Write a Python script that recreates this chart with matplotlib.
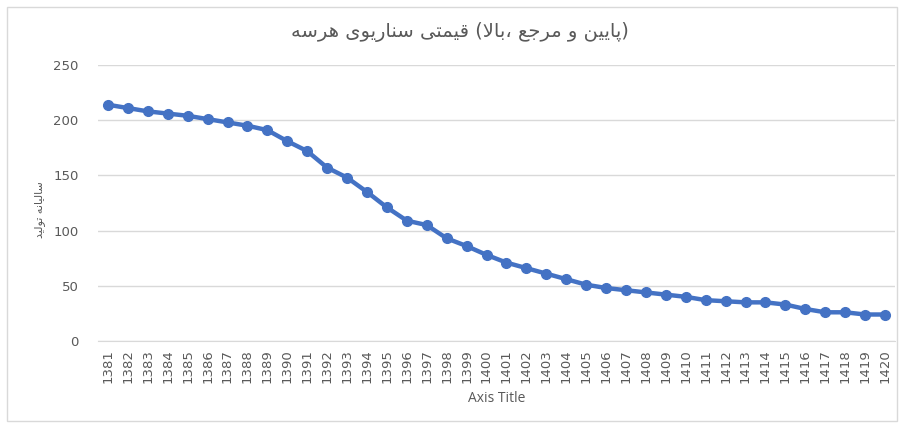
import matplotlib
matplotlib.use("Agg")
import matplotlib.pyplot as plt
from matplotlib.patches import Rectangle

# data
years = [str(y) for y in range(1381, 1421)]
values = [214, 211, 208, 206, 204, 201, 198, 195, 191, 181,
          172, 157, 148, 135, 121, 109, 105, 93, 86, 78,
          71, 66, 61, 56, 51, 48, 46, 44, 42, 40,
          37, 36, 35, 35, 33, 29, 26, 26, 24, 24]
yticks = [0, 50, 100, 150, 200, 250]

title_text = "هرسه سناریوی قیمتی (بالا، مرجع و پایین)"
ylabel_text = "تولید سالیانه"
xlabel_text = "Axis Title"

# minimal arabic shaping (matplotlib has none)
# letter: (isolated, final, initial, medial); two forms -> joins only to the right
FORMS = {
    "ه": (0xFEE9, 0xFEEA, 0xFEEB, 0xFEEC),
    "ر": (0xFEAD, 0xFEAE),
    "س": (0xFEB1, 0xFEB2, 0xFEB3, 0xFEB4),
    "ن": (0xFEE5, 0xFEE6, 0xFEE7, 0xFEE8),
    "ا": (0xFE8D, 0xFE8E),
    "ی": (0xFBFC, 0xFBFD, 0xFBFE, 0xFBFF),
    "و": (0xFEED, 0xFEEE),
    "ق": (0xFED5, 0xFED6, 0xFED7, 0xFED8),
    "م": (0xFEE1, 0xFEE2, 0xFEE3, 0xFEE4),
    "ت": (0xFE95, 0xFE96, 0xFE97, 0xFE98),
    "ب": (0xFE8F, 0xFE90, 0xFE91, 0xFE92),
    "ل": (0xFEDD, 0xFEDE, 0xFEDF, 0xFEE0),
    "ج": (0xFE9D, 0xFE9E, 0xFE9F, 0xFEA0),
    "ع": (0xFEC9, 0xFECA, 0xFECB, 0xFECC),
    "پ": (0xFB56, 0xFB57, 0xFB58, 0xFB59),
    "د": (0xFEA9, 0xFEAA),
}


def shape_word(w):
    # lam-alef ligature
    chars = []
    i = 0
    while i < len(w):
        if w[i] == "ل" and i + 1 < len(w) and w[i + 1] == "ا":
            chars.append("LA")
            i += 2
        else:
            chars.append(w[i])
            i += 1
    out = []
    for k, c in enumerate(chars):
        prev = chars[k - 1] if k > 0 else None
        nxt = chars[k + 1] if k + 1 < len(chars) else None
        join_prev = prev is not None and prev in FORMS and len(FORMS[prev]) == 4
        if c == "LA":
            out.append(chr(0xFEFC if join_prev else 0xFEFB))
            continue
        if c not in FORMS:
            out.append(c)
            continue
        f = FORMS[c]
        join_next = len(f) == 4 and nxt is not None and (nxt in FORMS or nxt == "LA")
        if join_prev and join_next:
            out.append(chr(f[3]))
        elif join_prev:
            out.append(chr(f[1]))
        elif join_next:
            out.append(chr(f[2]))
        else:
            out.append(chr(f[0]))
    return out


def visual(text):
    # words kept in the order the reference shows, letters inside each word right to left
    words = []
    for w in text.split(" "):
        lead = ""
        tail = ""
        while w and w[0] not in FORMS:
            lead += w[0]
            w = w[1:]
        while w and w[-1] not in FORMS:
            tail = w[-1] + tail
            w = w[:-1]
        words.append(lead + "".join(reversed(shape_word(w))) + tail)
    return " ".join(words)


gray = "#595959"
grid = "#d9d9d9"

fig = plt.figure(figsize=(9.04, 4.24), dpi=100)
fig.patches.append(Rectangle((7 / 904, 3 / 424), 890 / 904, 414 / 424,
                             transform=fig.transFigure, fill=False,
                             edgecolor="#d9d9d9", linewidth=1))

ax = fig.add_axes([98 / 904, 1 - 341 / 424, 797 / 904, 276 / 424])
x = list(range(len(years)))
ax.plot(x, values, color="#4472C4", linewidth=3.2, marker="o", markersize=7)

ax.set_xlim(-0.5, len(years) - 0.5)
ax.set_ylim(0, 250)
ax.set_yticks(yticks)
ax.set_xticks(x)
ax.set_xticklabels(years, rotation=90)
ax.tick_params(axis="both", length=0, labelsize=9.5, labelcolor=gray)
ax.tick_params(axis="y", pad=14)
ax.tick_params(axis="x", pad=6)
ax.grid(axis="y", color=grid, linewidth=1)
ax.set_axisbelow(True)
for s in ["top", "right", "left"]:
    ax.spines[s].set_visible(False)
ax.spines["bottom"].set_color(grid)

fig.text(0.5 * (98 + 895) / 904, 1 - 398 / 424, xlabel_text, ha="center", va="center",
         fontsize=10, color=gray, family="Open Sans")
fig.text(40 / 904, 1 - 210 / 424, visual(ylabel_text), rotation=90, ha="center", va="center",
         fontsize=8, color=gray, family="DejaVu Sans")
fig.text(460 / 904, 1 - 32 / 424, visual(title_text), ha="center", va="center",
         fontsize=14, color=gray, family="DejaVu Sans")

fig.savefig("out.png", dpi=100)
